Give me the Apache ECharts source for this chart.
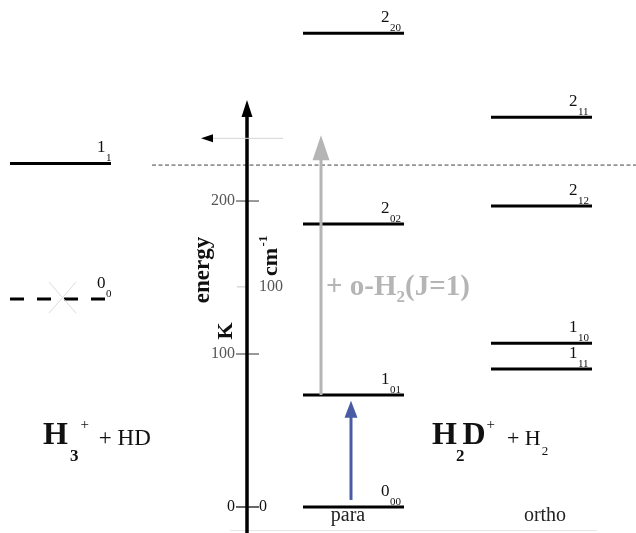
<!DOCTYPE html>
<html><head><meta charset="utf-8">
<script src="https://cdn.jsdelivr.net/npm/echarts@6/dist/echarts.min.js"></script>
<style>html,body{margin:0;padding:0;background:#fff}#c{width:636px;height:533px}</style>
</head><body><div id="c"></div>
<script>
// ---------------- data (energies in K) ----------------
const kTicks = [0, 100, 200];
const cmTicks = [0, 100];
const K_PER_CM = 1.4388;
const h3Levels = [224.6, 135.9];
const h3Labels = [['1', '1'], ['0', '0']];
const h3Forbidden = [0, 1];
const paraLevels = [0, 73.2, 185, 309.6];
const paraLabels = [['0', '00'], ['1', '01'], ['2', '02'], ['2', '20']];
const orthoLevels = [90.2, 107, 196.7, 254.7];
const orthoLabels = [['1', '11'], ['1', '10'], ['2', '12'], ['2', '11']];
const thresholdK = 223.5;
const axisRangeK = [-17, 266];
const greyArrowK = [73.2, 243];
const blueArrowK = [4.6, 69.5];
const leftArrowK = 241;
const bottomRuleK = -15.4;

// ---------------- layout ----------------
const SERIF = '"Liberation Serif", "Times New Roman", serif';
const Y_MIN = -17, Y_MAX = 331.4;
const AX = 247;
const COLS = {
  h3: { x0: 10, x1: 111, lx: 97 },
  para: { x0: 303, x1: 404, lx: 381 },
  ortho: { x0: 491, x1: 592, lx: 569 }
};
const ARROW_STYLES = [
  { color: '#000', w: 3.5, headLen: 17, headW: 11 },
  { color: '#b5b5b5', w: 3, headLen: 25, headW: 17 },
  { color: '#4a5ba6', w: 3, headLen: 17, headW: 13 },
  { color: '#d4d4d4', w: 1, headLen: 12, headW: 8, headColor: '#000' }
];

const measureCtx = document.createElement('canvas').getContext('2d');
function tw(t, size, weight) {
  measureCtx.font = (weight || 'normal') + ' ' + size + 'px ' + SERIF;
  return measureCtx.measureText(t).width;
}
// sequential text: parts {t,size,weight,dy,gap}
function seq(x, base, parts, fill) {
  const out = [];
  let cx = x;
  parts.forEach(p => {
    cx += p.gap || 0;
    out.push({
      type: 'text', x: cx, y: base + (p.dy || 0) - 0.34 * p.size, silent: true,
      style: { text: p.t, fontSize: p.size, fontWeight: p.weight || 'normal', fontFamily: SERIF,
        fill: p.fill || fill, align: 'left', verticalAlign: 'middle' }
    });
    cx += tw(p.t, p.size, p.weight);
  });
  return out;
}

function levelSeries(col, levels, labels, forbidden) {
  return {
    type: 'custom', coordinateSystem: 'cartesian2d', silent: true, animation: false,
    data: levels.map((e, i) => [col.x0, e, i]),
    renderItem: function (params, api) {
      const e = api.value(1), i = api.value(2);
      const p0 = api.coord([col.x0, e]), p1 = api.coord([col.x1, e]);
      const lx = api.coord([col.lx, e])[0];
      const y = p0[1];
      const lab = labels[i];
      const ch = [
        { type: 'line', shape: { x1: p0[0], y1: y, x2: p1[0], y2: y },
          style: { stroke: '#000', lineWidth: 3, lineDash: forbidden[i] ? [14, 13] : null } },
        { type: 'text', x: lx, y: y - 10 - 0.34 * 17,
          style: { text: lab[0], fontSize: 17, fontFamily: SERIF, fill: '#111', align: 'left', verticalAlign: 'middle' } },
        { type: 'text', x: lx + tw(lab[0], 17) + 0.5, y: y - 1.5 - 0.34 * 11,
          style: { text: lab[1], fontSize: 11, fontFamily: SERIF, fill: '#111', align: 'left', verticalAlign: 'middle' } }
      ];
      if (forbidden[i]) {
        ch.push({ type: 'line', shape: { x1: 49, y1: y - 17, x2: 76, y2: y + 14 }, style: { stroke: '#ddd', lineWidth: 1 } });
        ch.push({ type: 'line', shape: { x1: 49, y1: y + 14, x2: 76, y2: y - 17 }, style: { stroke: '#ddd', lineWidth: 1 } });
      }
      return { type: 'group', children: ch };
    }
  };
}

const arrowData = [
  [AX, axisRangeK[0], AX, axisRangeK[1], 0],
  [321, greyArrowK[0], 321, greyArrowK[1], 1],
  [351, blueArrowK[0], 351, blueArrowK[1], 2],
  [283, leftArrowK, 201, leftArrowK, 3]
];
const arrowSeries = {
  type: 'custom', coordinateSystem: 'cartesian2d', silent: true, animation: false, z: 5,
  data: arrowData,
  renderItem: function (params, api) {
    const p0 = api.coord([api.value(0), api.value(1)]);
    const p1 = api.coord([api.value(2), api.value(3)]);
    const st = ARROW_STYLES[api.value(4)];
    const dx = p1[0] - p0[0], dy = p1[1] - p0[1];
    const len = Math.sqrt(dx * dx + dy * dy);
    const ux = dx / len, uy = dy / len, nx = -uy, ny = ux;
    const bx = p1[0] - ux * st.headLen, by = p1[1] - uy * st.headLen;
    const lx = p1[0] - ux * st.headLen * 0.8, ly = p1[1] - uy * st.headLen * 0.8;
    return { type: 'group', children: [
      { type: 'line', shape: { x1: p0[0], y1: p0[1], x2: lx, y2: ly }, style: { stroke: st.color, lineWidth: st.w } },
      { type: 'polygon', shape: { points: [[p1[0], p1[1]], [bx + nx * st.headW / 2, by + ny * st.headW / 2], [bx - nx * st.headW / 2, by - ny * st.headW / 2]] },
        style: { fill: st.headColor || st.color } }
    ] };
  }
};

const tickData = kTicks.map(v => [v, 0]).concat(cmTicks.filter(v => v > 0).map(v => [v * K_PER_CM, 1]));
const tickSeries = {
  type: 'custom', coordinateSystem: 'cartesian2d', silent: true, animation: false, z: 4,
  data: tickData,
  renderItem: function (params, api) {
    const e = api.value(0), kind = api.value(1);
    const a = api.coord(kind ? [AX - 10, e] : [AX - 11, e]);
    const b = api.coord(kind ? [AX, e] : [AX + 12, e]);
    const col = kind ? '#cfcfcf' : (e === 0 ? '#000' : '#555');
    return { type: 'line', shape: { x1: a[0], y1: a[1], x2: b[0], y2: b[1] }, style: { stroke: col, lineWidth: 1.2 } };
  }
};

const ruleSeries = {
  type: 'custom', coordinateSystem: 'cartesian2d', silent: true, animation: false, z: 1,
  data: [[thresholdK, 0], [bottomRuleK, 1]],
  renderItem: function (params, api) {
    const e = api.value(0), kind = api.value(1);
    const a = api.coord([kind ? 230 : 152, e]), b = api.coord([kind ? 597 : 636, e]);
    return { type: 'line', shape: { x1: a[0], y1: a[1], x2: b[0], y2: b[1] },
      style: kind ? { stroke: '#e6e6e6', lineWidth: 1 } : { stroke: '#444', lineWidth: 1, lineDash: [4, 2.5] } };
  }
};

const labelColor = v => (Number(v) === 0 ? '#111' : '#555');

const graphics = []
  .concat(seq(43, 447, [
    { t: 'H', size: 32, weight: 'bold' },
    { t: '3', size: 17, weight: 'bold', dy: 15, gap: 2 },
    { t: '+', size: 15, dy: -17, gap: 2 },
    { t: '+ HD', size: 23, gap: 10 }
  ], '#111'))
  .concat(seq(432, 447, [
    { t: 'H', size: 32, weight: 'bold' },
    { t: '2', size: 17, weight: 'bold', dy: 15, gap: -1 },
    { t: 'D', size: 32, weight: 'bold', gap: -2 },
    { t: '+', size: 15, dy: -17, gap: 1 },
    { t: '+ H', size: 22, gap: 12 },
    { t: '2', size: 13, dy: 9, gap: 1 }
  ], '#111'))
  .concat(seq(326, 297, [
    { t: '+ o-H', size: 29, weight: 'bold' },
    { t: '2', size: 17, weight: 'bold', dy: 6 },
    { t: '(J=1)', size: 29, weight: 'bold' }
  ], '#b5b5b5'))
  .concat([
    { type: 'text', x: 348, y: 523 - 0.34 * 20, style: { text: 'para', fontSize: 20, fontFamily: SERIF, fill: '#222', align: 'center', verticalAlign: 'middle' } },
    { type: 'text', x: 545, y: 523 - 0.34 * 20, style: { text: 'ortho', fontSize: 20, fontFamily: SERIF, fill: '#222', align: 'center', verticalAlign: 'middle' } },
    { type: 'text', x: 203, y: 270, rotation: Math.PI / 2, style: { text: 'energy', fontSize: 23, fontWeight: 'bold', fontFamily: SERIF, fill: '#111', align: 'center', verticalAlign: 'middle' } },
    { type: 'text', x: 226, y: 331, rotation: Math.PI / 2, style: { text: 'K', fontSize: 22, fontWeight: 'bold', fontFamily: SERIF, fill: '#111', align: 'center', verticalAlign: 'middle' } },
    { type: 'text', x: 271, y: 262, rotation: Math.PI / 2, style: { text: 'cm', fontSize: 22, fontWeight: 'bold', fontFamily: SERIF, fill: '#111', align: 'center', verticalAlign: 'middle' } },
    { type: 'text', x: 264, y: 241, rotation: Math.PI / 2, style: { text: '-1', fontSize: 13, fontWeight: 'bold', fontFamily: SERIF, fill: '#111', align: 'center', verticalAlign: 'middle' } }
  ]);

const chart = echarts.init(document.getElementById('c'), null, { renderer: 'canvas' });
chart.setOption({
  animation: false,
  backgroundColor: '#fff',
  grid: { left: 0, right: 0, top: 0, bottom: 0 },
  xAxis: { type: 'value', min: 0, max: 636, show: false },
  yAxis: [
    { type: 'value', min: Y_MIN, max: Y_MAX, position: 'left', offset: -AX,
      axisLine: { show: false }, axisTick: { show: false }, splitLine: { show: false },
      axisLabel: { customValues: kTicks, margin: 12, fontSize: 16, fontFamily: SERIF, color: labelColor } },
    { type: 'value', min: Y_MIN / K_PER_CM, max: Y_MAX / K_PER_CM, position: 'right', offset: -(636 - AX),
      axisLine: { show: false }, axisTick: { show: false }, splitLine: { show: false },
      axisLabel: { customValues: cmTicks, margin: 12, fontSize: 16, fontFamily: SERIF, color: labelColor } }
  ],
  graphic: graphics,
  series: [
    ruleSeries,
    levelSeries(COLS.h3, h3Levels, h3Labels, h3Forbidden),
    levelSeries(COLS.para, paraLevels, paraLabels, [0, 0, 0, 0]),
    levelSeries(COLS.ortho, orthoLevels, orthoLabels, [0, 0, 0, 0]),
    tickSeries,
    arrowSeries
  ]
});
</script></body></html>
